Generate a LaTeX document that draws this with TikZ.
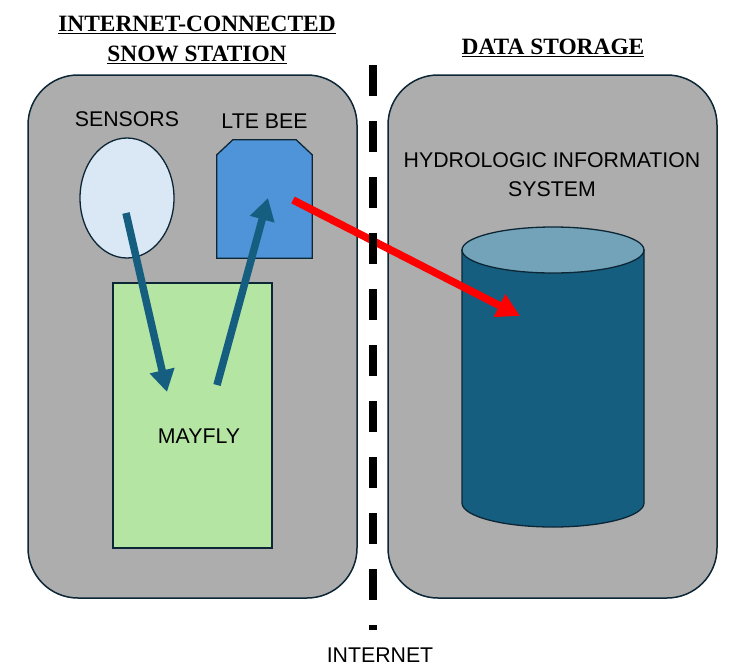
\documentclass[tikz,border=0pt]{standalone}
\usepackage{fontspec}
\setmainfont{Liberation Sans}
\newfontfamily\titlefont{Liberation Serif}
\usetikzlibrary{positioning,shapes.geometric,arrows.meta}

\definecolor{panelgray}{RGB}{173,173,173}
\definecolor{edgenavy}{RGB}{12,38,54}
\definecolor{sensorblue}{RGB}{218,232,246}
\definecolor{ltebee}{RGB}{79,148,216}
\definecolor{mayflygreen}{RGB}{180,229,162}
\definecolor{hisbody}{RGB}{21,94,128}
\definecolor{histop}{RGB}{115,163,184}

\begin{document}
\begin{tikzpicture}[
    x=1pt, y=-1pt,
    node distance = 10pt,
    inner sep=0pt,
    panel/.style={draw=edgenavy, line width=1.5pt, fill=panelgray, rounded corners=50pt,
        minimum width=329pt, minimum height=523pt},
    box/.style={draw=edgenavy, line width=1.3pt},
    txt/.style={font=\fontsize{21.3}{29}\selectfont, align=center},
    heading/.style={font=\titlefont\bfseries\fontsize{23.4}{30}\selectfont, align=center},
    flow/.style={line width=7.5pt, draw=hisbody, -{Triangle[length=22pt,width=24pt]}},
    upload/.style={line width=7.5pt, draw=red, -{Triangle[length=23pt,width=24pt]}},
    internet/.style={line width=8pt, dash pattern=on 31pt off 25pt}]
    \useasboundingbox (0,0) rectangle (742,670);
    % NODES
    % panels
    \node[panel] (station) at (192.5,336.5) {};
    \node[panel] (storage) at (552.5,336.5) {};
    % headings
    \node[heading] (stationhead) at (197,40) {\underline{INTERNET-CONNECTED}\\\underline{SNOW STATION}};
    \node[heading] (storagehead) at (553,48) {\underline{DATA STORAGE}};
    % sensors
    \node[box, ellipse, fill=sensorblue, minimum width=94pt, minimum height=120pt] (sensors) at (127,198) {};
    \node[txt, above = 10.5pt of sensors] (sensorslabel) {SENSORS};
    % lte bee
    \node[minimum width=95pt, minimum height=118pt] (lte) at (264.5,199) {};
    \draw[box, fill=ltebee] ([yshift=-15pt]lte.north west) -- ([xshift=16pt]lte.north west)
        -- ([xshift=-16pt]lte.north east) -- ([yshift=-15pt]lte.north east)
        -- (lte.south east) -- (lte.south west) -- cycle;
    \node[txt, above = 11.5pt of lte] (ltelabel) {LTE BEE};
    % mayfly
    \node[box, fill=mayflygreen, minimum width=159pt, minimum height=265pt] (mayfly) at (192.5,415.5) {};
    \node[txt] (mayflylabel) at (199,436) {MAYFLY};
    % hydrologic information system
    \coordinate (his) at (553,250);
    \draw[box, fill=hisbody] (462,250) -- (462,503)
        arc[start angle=180, end angle=360, x radius=91pt, y radius=24pt] -- (644,250) -- cycle;
    \draw[box, fill=histop] (his) ellipse[x radius=91pt, y radius=23pt];
    \node[txt] (hislabel) at (552,175) {HYDROLOGIC INFORMATION\\SYSTEM};
    % internet
    \coordinate (nettop) at (373,65);
    \coordinate (netbottom) at (373,630);
    \node[txt] (internetlabel) at (380,655) {INTERNET};

    % ARROWS
    \draw[flow] ([shift={(-1,15)}]sensors.center) -- ([shift={(-25.5,-23.5)}]mayfly.center);
    \draw[flow] ([shift={(24.5,-30.5)}]mayfly.center) -- ([shift={(3.5,-1)}]lte.center);
    \draw[upload] ([shift={(28.5,1)}]lte.center) -- ([shift={(-33,66)}]his);
    \draw[internet] (nettop) -- (netbottom);
\end{tikzpicture}
\end{document}
